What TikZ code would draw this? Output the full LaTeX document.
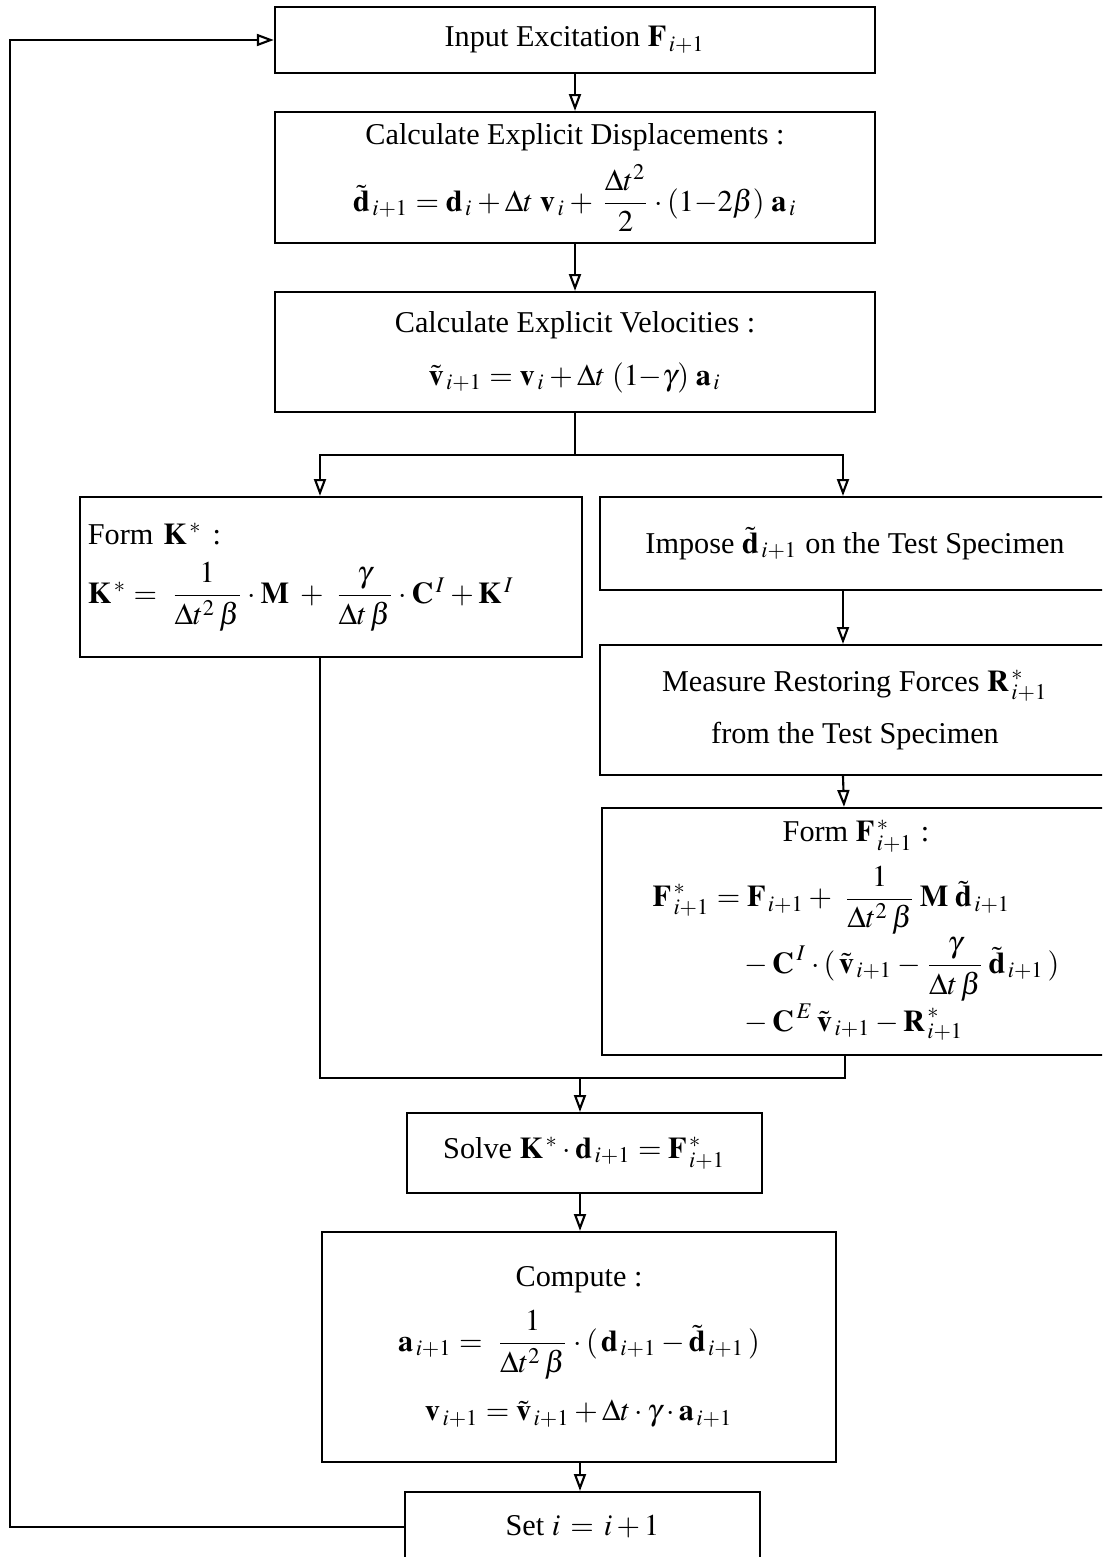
\documentclass[tikz,border=0pt]{standalone}
\usepackage{amsmath}
\usepackage{mathptmx}
\usepackage[no-math]{fontspec}
\setmainfont{Liberation Serif}
\usetikzlibrary{arrows.meta}

\newcommand{\bv}[1]{\mathbf{#1}}

\begin{document}
\begin{tikzpicture}[x=0.01cm,y=-0.01cm,line width=0.6pt,
  every path/.style={>={Triangle[open,length=4.8pt,width=3.4pt]}},
  stepbox/.style={draw,rectangle,inner sep=0pt,align=center,font=\fontsize{8.6}{11}\selectfont}]
\clip (0,0) rectangle (1102,1557);
% boxes
\node[stepbox,minimum width=6cm,minimum height=0.66cm]    (inp)   at (575,40)    {Input Excitation $\bv F_{\,i+1}$};
\node[stepbox,minimum width=6cm,minimum height=1.31cm]    (disp)  at (575,177.5) {Calculate Explicit Displacements :\\[3pt]
  $\tilde{\bv d}_{\,i+1}=\bv d_{\,i}+\Delta t\;\bv v_{\,i}+\,\dfrac{\Delta t^2}{2}\cdot(1{-}2\beta)\;\bv a_{\,i}$};
\node[stepbox,minimum width=6cm,minimum height=1.2cm]     (vel)   at (575,352)   {Calculate Explicit Velocities :\\[4pt]
  $\tilde{\bv v}_{\,i+1}=\bv v_{\,i}+\Delta t\;(1{-}\gamma)\;\bv a_{\,i}$};
\node[stepbox,minimum width=5.02cm,minimum height=1.6cm,text width=4.86cm,align=left] (kst) at (331,577) {Form $\bv K^{\,*}$ :\\[4pt]
  $\bv K^{\,*}=\;\dfrac{1}{\Delta t^2\,\beta}\cdot\bv M\;+\;\dfrac{\gamma}{\Delta t\,\beta}\cdot\bv C^{\,I}+\bv K^{\,I}$};
\node[stepbox,minimum width=5.1cm,minimum height=0.93cm]  (imp)   at (855,543.5) {Impose $\tilde{\bv d}_{\,i+1}$ on the Test Specimen};
\node[stepbox,minimum width=5.1cm,minimum height=1.3cm]   (meas)  at (855,710)   {Measure Restoring Forces $\bv R^{\,*}_{\,i+1}$\\[4pt] from the Test Specimen};
\node[stepbox,minimum width=5.08cm,minimum height=2.47cm] (fst)   at (856,931.5) {Form $\bv F^{\,*}_{\,i+1}$ :\\[3pt]
  $\begin{aligned}
  \bv F^{\,*}_{\,i+1} &= \bv F_{\,i+1}+\;\dfrac{1}{\Delta t^2\,\beta}\,\bv M\;\tilde{\bv d}_{\,i+1}\\[-3pt]
  &\quad-\bv C^{\,I}\cdot(\,\tilde{\bv v}_{\,i+1}-\dfrac{\gamma}{\Delta t\,\beta}\,\tilde{\bv d}_{\,i+1}\,)\\[-3pt]
  &\quad-\bv C^{\,E}\,\tilde{\bv v}_{\,i+1}-\bv R^{\,*}_{\,i+1}
  \end{aligned}$};
\node[stepbox,minimum width=3.55cm,minimum height=0.8cm]  (solve) at (584.5,1153) {Solve $\bv K^{\,*}\cdot\bv d_{\,i+1}=\bv F^{\,*}_{\,i+1}$};
\node[stepbox,minimum width=5.14cm,minimum height=2.3cm]  (comp)  at (579,1347)  {Compute :\\[4pt]
  $\bv a_{\,i+1}=\;\dfrac{1}{\Delta t^2\,\beta}\cdot(\,\bv d_{\,i+1}-\tilde{\bv d}_{\,i+1}\,)$\\[5pt]
  $\bv v_{\,i+1}=\tilde{\bv v}_{\,i+1}+\Delta t\cdot\gamma\cdot\bv a_{\,i+1}$};
\node[stepbox,minimum width=3.55cm,minimum height=0.7cm]  (set)   at (582.5,1527) {Set $i\,=\,i+1$};
% connectors
\coordinate (split) at (575,455);
\coordinate (join)  at (580,1078);
\coordinate (loop)  at (10,1527);
\draw[->] (inp) -- (disp);
\draw[->] (disp) -- (vel);
\draw     (vel) -- (split);
\draw[->] (split) -| ([xshift=-0.11cm]kst.north);
\draw[->] (split) -| ([xshift=-0.12cm]imp.north);
\draw[->] ([xshift=-0.12cm]imp.south) -- ([xshift=-0.12cm]meas.north);
\draw[->] ([xshift=-0.12cm]meas.south) -- ([xshift=-0.12cm]fst.north);
\draw     ([xshift=-0.11cm]kst.south) |- (join) -| ([xshift=-0.11cm]fst.south);
\draw[->] (join) -- (join |- solve.north);
\draw[->] (join |- solve.south) -- (join |- comp.north);
\draw[->] (join |- comp.south) -- (join |- set.north);
\draw[->] (set.west) -- (loop) |- (inp.west);
\end{tikzpicture}
\end{document}
